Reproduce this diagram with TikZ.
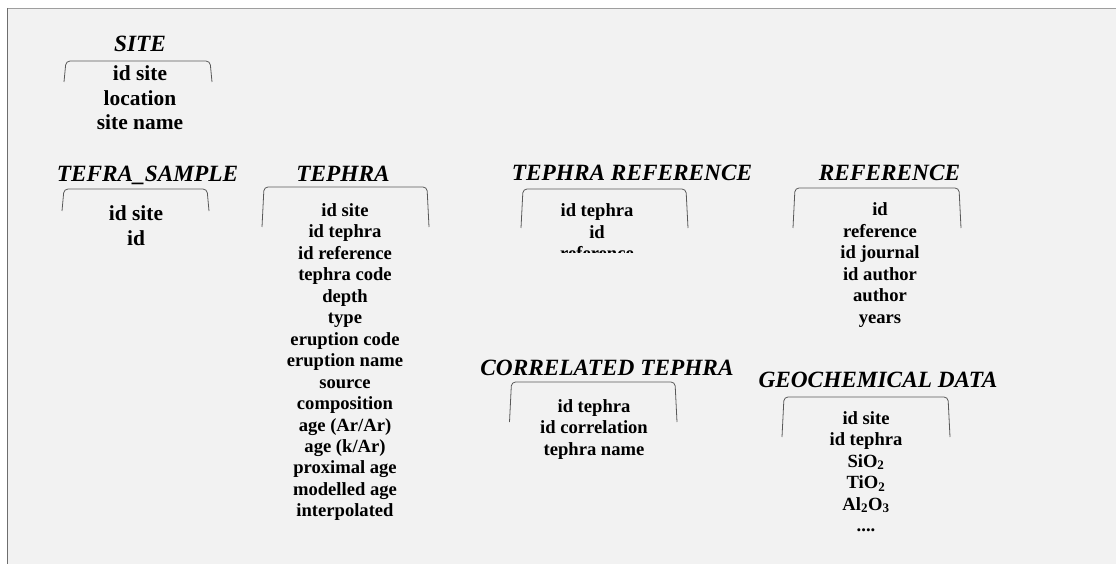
\documentclass[tikz,border=0pt]{standalone}
\usepackage{fontspec}
\setmainfont{Liberation Serif}
\usepackage{tikz}
\usetikzlibrary{positioning}

\begin{document}
\begin{tikzpicture}
	[x=1pt,y=-1pt,
	title/.style={inner sep=0pt,anchor=base,font=\fontsize{23.3}{28}\selectfont\bfseries\itshape},
	field/.style={inner sep=0pt,anchor=base,font=\fontsize{18.6}{21}\selectfont\bfseries},
	bigfield/.style={inner sep=0pt,anchor=base,font=\fontsize{21.4}{24}\selectfont\bfseries},
	bracket/.style={draw=black!65,line width=0.8pt,rounded corners=4pt}]
	\useasboundingbox (0,0) rectangle (1116,564);
	% fondo y marco
	\fill[black!5] (7,8) rectangle (1116,564);
	\draw[black!38,line width=1.4pt] (7,8.7) -- (1116,8.7);
	\draw[black!57,line width=1.4pt] (7.7,8) -- (7.7,564);
	% SITE
	\node[title] (site) at (140,51.5) {SITE};
	\draw[bracket] (64,82) -- (66,61) -- (210,61) -- (212,82);
	\node[bigfield] (site1) at (140,81) {id site};
	\node[bigfield] (site2) at (140,105.5) {location};
	\node[bigfield] (site3) at (140,130) {site name};
	% TEFRA_SAMPLE
	\node[title] (sample) at (147.5,181.5) {TEFRA\_SAMPLE};
	\draw[bracket] (62,211) -- (64,189) -- (207,189) -- (209,211);
	\node[bigfield] (sample1) at (136,220.5) {id site};
	\node[bigfield] (sample2) at (136,245) {id};
	% TEPHRA
	\node[title] (tephra) at (343,181.5) {TEPHRA};
	\draw[bracket] (262,227) -- (264,187) -- (427,187) -- (429,227);
	\node[field] (tephra1) at (345,216.5) {id site};
	\node[field] (tephra2) at (345,237.95) {id tephra};
	\node[field] (tephra3) at (345,259.4) {id reference};
	\node[field] (tephra4) at (345,280.85) {tephra code};
	\node[field] (tephra5) at (345,302.3) {depth};
	\node[field] (tephra6) at (345,323.75) {type};
	\node[field] (tephra7) at (345,345.2) {eruption code};
	\node[field] (tephra8) at (345,366.65) {eruption name};
	\node[field] (tephra9) at (345,388.1) {source};
	\node[field] (tephra10) at (345,409.55) {composition};
	\node[field] (tephra11) at (345,431) {age (Ar/Ar)};
	\node[field] (tephra12) at (345,452.45) {age (k/Ar)};
	\node[field] (tephra13) at (345,473.9) {proximal age};
	\node[field] (tephra14) at (345,495.35) {modelled age};
	\node[field] (tephra15) at (345,516.8) {interpolated};
	% TEPHRA REFERENCE
	\node[title] (tephraref) at (632,181) {TEPHRA REFERENCE};
	\draw[bracket] (521,228) -- (523,189) -- (686,189) -- (688,228);
	\node[field] (tephraref1) at (597,216.5) {id tephra};
	\node[field] (tephraref2) at (597,238) {id};
	\begin{scope}
	\clip (500,240) rectangle (700,252.5);
	\node[field] (tephraref3) at (597,259.5) {reference};
	\end{scope}
	% REFERENCE
	\node[title] (reference) at (889.5,181) {REFERENCE};
	\draw[bracket] (793,228) -- (795,188) -- (959,188) -- (961,228);
	\node[field] (reference1) at (880,215.7) {id};
	\node[field] (reference2) at (880,237.2) {reference};
	\node[field] (reference3) at (880,258.7) {id journal};
	\node[field] (reference4) at (880,280.2) {id author};
	\node[field] (reference5) at (880,301.7) {author};
	\node[field] (reference6) at (880,323.2) {years};
	% CORRELATED TEPHRA
	\node[title] (correlated) at (607,375) {CORRELATED TEPHRA};
	\draw[bracket] (509.5,422) -- (511.5,382) -- (675,382) -- (677,422);
	\node[field] (correlated1) at (594,412.3) {id tephra};
	\node[field] (correlated2) at (594,433.7) {id correlation};
	\node[field] (correlated3) at (594,455) {tephra name};
	% GEOCHEMICAL DATA
	\node[title] (geochem) at (878,387.3) {GEOCHEMICAL DATA};
	\draw[bracket] (782,437) -- (784,397) -- (948,397) -- (950,437);
	\node[field] (geochem1) at (866,424.3) {id site};
	\node[field] (geochem2) at (866,445.75) {id tephra};
	\node[field] (geochem3) at (866,467.2) {SiO\textsubscript{2}};
	\node[field] (geochem4) at (866,488.65) {TiO\textsubscript{2}};
	\node[field] (geochem5) at (866,510.1) {Al\textsubscript{2}O\textsubscript{3}};
	\node[field] (geochem6) at (866,531.55) {....};
\end{tikzpicture}
\end{document}
